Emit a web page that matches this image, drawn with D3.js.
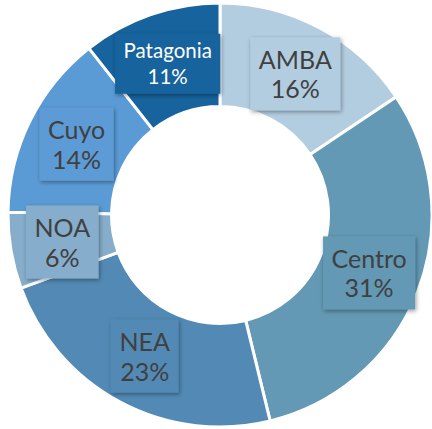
<!DOCTYPE html>
<html>
<head>
<meta charset="utf-8">
<script src="https://cdn.jsdelivr.net/npm/d3@7"></script>
<style>
  html, body { margin: 0; padding: 0; background: #ffffff; }
  svg { display: block; }
</style>
</head>
<body>
<svg id="chart" width="432" height="429"></svg>
<script>
// Data (share of total, in %)
const categories = ["AMBA", "Centro", "NEA", "NOA", "Cuyo", "Patagonia"];
const values = [15.6, 30.6, 23.2, 5.8, 14.2, 10.6];
const colors = ["#b3cde0", "#6399b4", "#528ab5", "#86adcb", "#5b9bd5", "#17639d"];
const textColors = ["#404040", "#404040", "#404040", "#404040", "#404040", "#ffffff"];

const W = 432, H = 429;
const cx = 220, cy = 215;
const outerR = 212, innerR = 108.5, labelR = 160;

const svg = d3.select("#chart");
const defs = svg.append("defs");
const f = defs.append("filter").attr("id", "shadow")
  .attr("x", "-30%").attr("y", "-30%").attr("width", "160%").attr("height", "160%");
f.append("feDropShadow").attr("dx", 1).attr("dy", 1.5).attr("stdDeviation", 2.2)
  .attr("flood-color", "#000").attr("flood-opacity", 0.4);

const data = categories.map((c, i) => ({ name: c, value: values[i], i }));
const total = d3.sum(values);

const pie = d3.pie().value(d => d.value).sort(null);
const arcs = pie(data);
const arc = d3.arc().innerRadius(innerR).outerRadius(outerR);
const labelArc = d3.arc().innerRadius(labelR).outerRadius(labelR);

const g = svg.append("g").attr("transform", `translate(${cx},${cy})`);

g.selectAll("path.slice").data(arcs).enter().append("path")
  .attr("class", "slice")
  .attr("d", arc)
  .attr("fill", d => colors[d.data.i])
  .attr("stroke", "#ffffff")
  .attr("stroke-width", 3)
  .attr("stroke-linejoin", "miter");

const fmt = v => Math.round(v / total * 100) + "%";

const labels = g.selectAll("g.label").data(arcs).enter().append("g")
  .attr("class", "label")
  .attr("transform", d => `translate(${labelArc.centroid(d)})`);

labels.each(function(d) {
  const sel = d3.select(this);
  const small = d.data.name === "Patagonia";
  const fs = small ? 20.5 : 25;
  const lh = small ? 26.7 : 29.5;
  const y1 = small ? -6 : -5;
  const rect = sel.append("rect");
  const t = sel.append("text")
    .attr("text-anchor", "middle")
    .attr("font-family", "Lato, 'Open Sans', sans-serif")
    .attr("font-size", fs)
    .attr("fill", textColors[d.data.i]);
  t.append("tspan").attr("x", 0).attr("y", y1).text(d.data.name);
  t.append("tspan").attr("x", 0).attr("y", y1 + lh).text(fmt(d.data.value));
  const bb = t.node().getBBox();
  const padX = 8.5;
  const bw = bb.width + padX * 2;
  const bh = small ? 60 : 73;
  rect.attr("x", -bw / 2).attr("y", -bh / 2)
    .attr("width", bw).attr("height", bh)
    .attr("fill", colors[d.data.i])
    .attr("filter", "url(#shadow)");
});
</script>
</body>
</html>
